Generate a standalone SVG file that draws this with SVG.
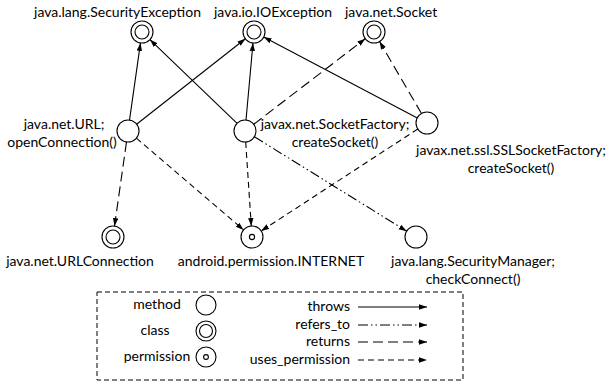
<svg xmlns="http://www.w3.org/2000/svg" width="608" height="385" viewBox="0 0 608 385">
<defs>
<marker id="ah" markerWidth="9" markerHeight="7" refX="8" refY="3" orient="auto" markerUnits="userSpaceOnUse">
<path d="M0,0.3 L8,3 L0,5.7 z" fill="#000"/>
</marker>
<style>
text{font-family:Lato,"Liberation Sans",sans-serif;font-size:14px;fill:#000}
.n{fill:#fff;stroke:#000;stroke-width:1.1}
.e{fill:none;stroke:#000;stroke-width:1.1;marker-end:url(#ah)}
.throws{}
.returns{stroke-dasharray:10 5}
.uses{stroke-dasharray:6 4}
.refers{stroke-dasharray:10 3 1.5 3 1.5 3}
.m{text-anchor:middle}
.r{text-anchor:end}
.s{text-anchor:start}
</style>
</defs>
<rect width="608" height="385" fill="#fff"/>
<g id="connectors">
<line class="e throws" x1="129.5" y1="120.1" x2="140.5" y2="42.9"/>
<line class="e throws" x1="136.6" y1="124.2" x2="245.4" y2="38.8"/>
<line class="e throws" x1="237.1" y1="123.4" x2="149.9" y2="39.6"/>
<line class="e throws" x1="246" y1="120" x2="253" y2="43"/>
<line class="e throws" x1="417.3" y1="117.9" x2="263.7" y2="37.1"/>
<line class="e returns" x1="253.7" y1="124.3" x2="365.3" y2="38.7"/>
<line class="e returns" x1="421.5" y1="113.5" x2="379.5" y2="41.5"/>
<line class="e returns" x1="126.5" y1="141.9" x2="114.5" y2="226.1"/>
<line class="e uses" x1="136.4" y1="138.2" x2="243.6" y2="229.9"/>
<line class="e uses" x1="245.7" y1="142" x2="251.3" y2="226"/>
<line class="e uses" x1="417.8" y1="129" x2="261.2" y2="231"/>
<line class="e refers" x1="254.4" y1="136.8" x2="406.7" y2="231.2"/>
</g>
<g id="n_security_exception">
<circle class="n" cx="142" cy="32" r="11"/><circle class="n" cx="142" cy="32" r="7"/>
<text class="r" x="201" y="17">java.lang.SecurityException</text>
</g>
<g id="n_ioexception">
<circle class="n" cx="254" cy="32" r="11"/><circle class="n" cx="254" cy="32" r="7"/>
<text class="s" x="214" y="17">java.io.IOException</text>
</g>
<g id="n_socket">
<circle class="n" cx="374" cy="32" r="11"/><circle class="n" cx="374" cy="32" r="7"/>
<text class="s" x="345" y="17">java.net.Socket</text>
</g>
<g id="n_url_open">
<circle class="n" cx="128" cy="131" r="11"/>
<text class="m" x="64" y="129">java.net.URL;</text>
<text class="m" x="62" y="147">openConnection()</text>
</g>
<g id="n_socketfactory">
<circle class="n" cx="245" cy="131" r="11"/>
<text class="m" x="335" y="129">javax.net.SocketFactory;</text>
<text class="m" x="335" y="147">createSocket()</text>
</g>
<g id="n_sslsocketfactory">
<circle class="n" cx="427" cy="123" r="11"/>
<text class="m" x="511" y="155">javax.net.ssl.SSLSocketFactory;</text>
<text class="m" x="511" y="173">createSocket()</text>
</g>
<g id="n_urlconnection">
<circle class="n" cx="113" cy="237" r="11"/><circle class="n" cx="113" cy="237" r="7"/>
<text class="m" x="80" y="266">java.net.URLConnection</text>
</g>
<g id="n_internet">
<circle class="n" cx="252" cy="237" r="11"/><circle class="n" cx="252" cy="237" r="2.6"/>
<text class="m" x="271" y="266">android.permission.INTERNET</text>
</g>
<g id="n_securitymanager">
<circle class="n" cx="416" cy="237" r="11"/>
<text class="m" x="473" y="266">java.lang.SecurityManager;</text>
<text class="m" x="473" y="284">checkConnect()</text>
</g>
<g id="legend">
<rect x="97" y="292" width="366" height="88" fill="none" stroke="#000" stroke-width="1" stroke-dasharray="5 3"/>
<text class="m" x="157" y="309">method</text>
<circle class="n" cx="206" cy="305" r="10"/>
<text class="m" x="155" y="335">class</text>
<circle class="n" cx="206" cy="331" r="10"/><circle class="n" cx="206" cy="331" r="6.5"/>
<text class="m" x="157" y="361">permission</text>
<circle class="n" cx="206" cy="357" r="10"/><circle class="n" cx="206" cy="357" r="2.4"/>
<text class="r" x="350" y="311">throws</text>
<line class="e throws" x1="358" y1="307" x2="427" y2="307"/>
<text class="r" x="350" y="329">refers_to</text>
<line class="e refers" x1="358" y1="325" x2="427" y2="325"/>
<text class="r" x="350" y="346">returns</text>
<line class="e returns" x1="358" y1="342" x2="427" y2="342"/>
<text class="r" x="350" y="364">uses_permission</text>
<line class="e uses" x1="358" y1="360" x2="427" y2="360"/>
</g>
</svg>
